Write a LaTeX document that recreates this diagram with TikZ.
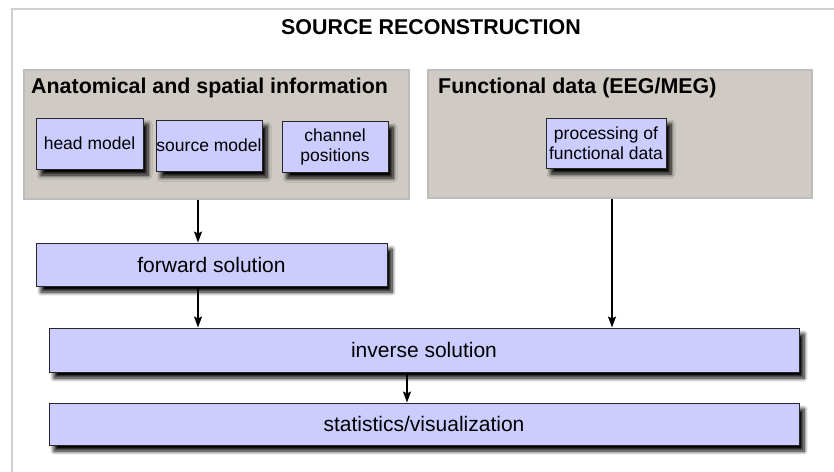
\documentclass[tikz,border=0pt]{standalone}
\usepackage{fontspec}
\setmainfont{Liberation Sans}
\usepackage{tikz}
\usetikzlibrary{arrows.meta}
\usetikzlibrary{shadows.blur}

\definecolor{boxblue}{HTML}{CCCCFF}
\definecolor{panelgray}{HTML}{CFCAC3}
\definecolor{panelline}{HTML}{BDBDBD}
\definecolor{frameline}{HTML}{D0D0D0}

\tikzset{
  panel/.style={draw=panelline, line width=2pt, fill=panelgray, rectangle, inner sep=0pt},
  smallbox/.style={draw=black!85, line width=1pt, fill=boxblue, rectangle, inner sep=0pt,
    align=center, font=\fontsize{17.5}{20}\selectfont,
    blur shadow={shadow xshift=5pt, shadow yshift=-6pt, shadow blur radius=4pt,
      shadow blur steps=8, shadow opacity=100}},
  widebox/.style={smallbox, font=\fontsize{21}{24}\selectfont},
  heading/.style={anchor=west, inner sep=0pt, font=\fontsize{21.4}{25}\selectfont\bfseries},
  flow/.style={-{Stealth[length=11pt, width=8pt, inset=2pt]}, line width=1.8pt}
}

\begin{document}
\begin{tikzpicture}[x=1pt, y=-1pt]
\useasboundingbox (0,0) rectangle (834,471);
\clip (0,0) rectangle (834,471);
\draw[frameline, line width=2pt] (12,490) -- (12,9) -- (850,9);
\node[heading, anchor=center] (title) at (431,27) {SOURCE RECONSTRUCTION};

% the two input panels
\node[panel, minimum width=385pt, minimum height=129pt] (anat) at (216.5,134.5) {};
\node[panel, minimum width=384pt, minimum height=128pt] (func) at (620,134) {};
\node[heading] (anattxt) at (31,88) {Anatomical and spatial information};
\node[heading] (functxt) at (438,88) {Functional data (EEG/MEG)};

\node[smallbox, minimum width=107pt, minimum height=51pt] (head) at (89.5,143.5) {head model};
\node[smallbox, minimum width=106pt, minimum height=51pt] (source) at (209,145.5) {source model};
\node[smallbox, minimum width=106pt, minimum height=51pt] (chan) at (335,146.5) {channel\\positions};
\node[smallbox, minimum width=120pt, minimum height=50pt] (proc) at (606,143) {processing of\\functional data};

% solution steps
\node[widebox, minimum width=351pt, minimum height=43pt] (fwd) at (211.5,264.5) {forward solution};
\node[widebox, minimum width=750pt, minimum height=44pt] (inv) at (424,350) {inverse solution};
\node[widebox, minimum width=750pt, minimum height=42pt] (stats) at (424,424) {statistics/visualization};

\coordinate (xa) at (198,0);
\coordinate (xb) at (612,0);
\coordinate (xc) at (407,0);
\draw[flow] (anat.south -| xa) -- (fwd.north -| xa);
\draw[flow] (fwd.south -| xa) -- (inv.north -| xa);
\draw[flow] (func.south -| xb) -- (inv.north -| xb);
\draw[flow] (inv.south -| xc) -- (stats.north -| xc);
\end{tikzpicture}
\end{document}
